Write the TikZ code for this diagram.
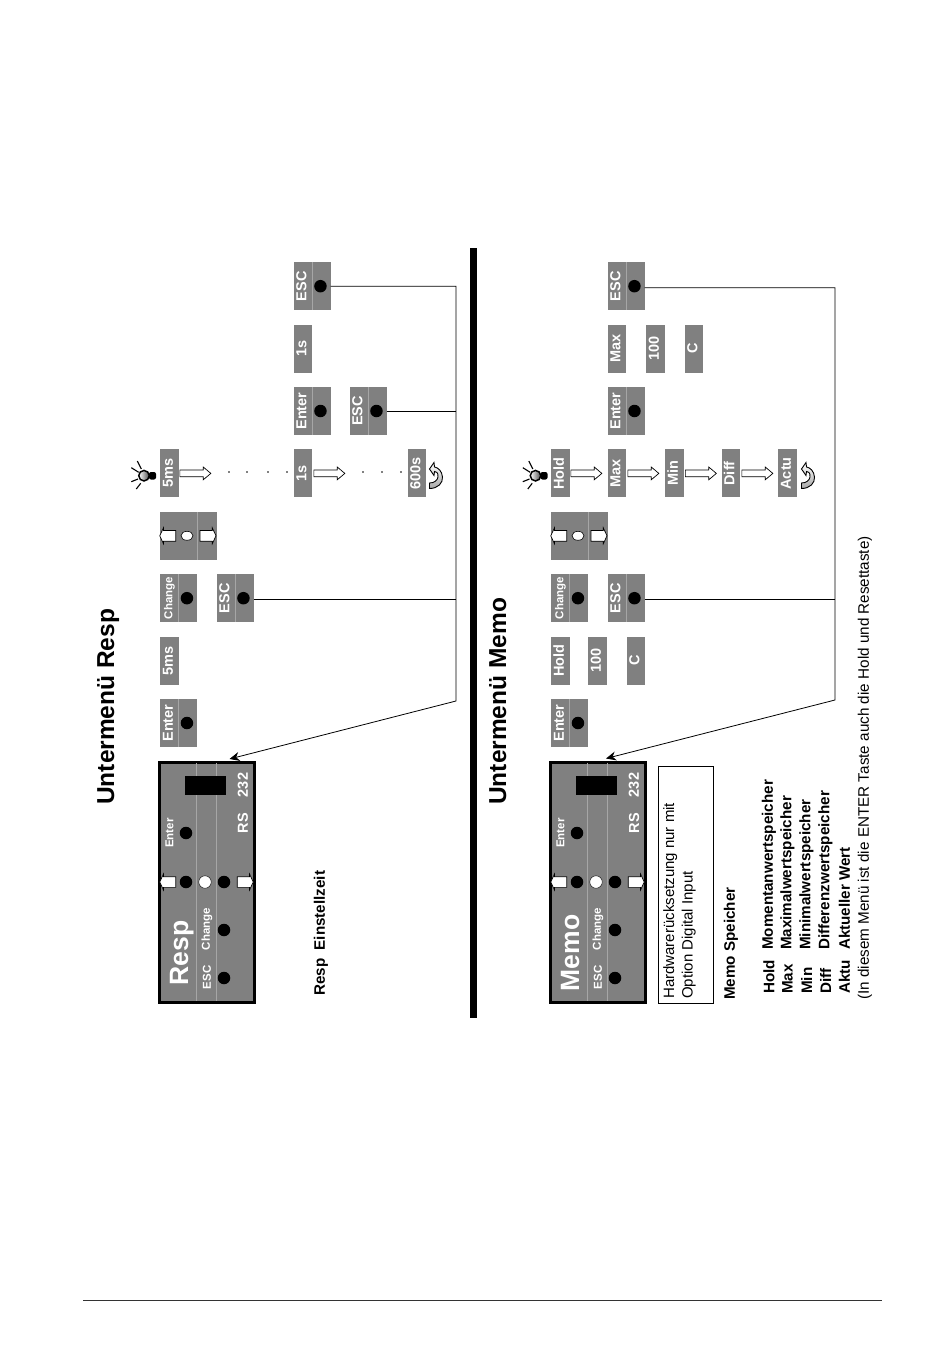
\documentclass[tikz,border=0pt]{standalone}
\usepackage{fontspec}
\setmainfont{Liberation Sans}
\usepackage{xcolor}
\definecolor{keygray}{HTML}{808080}
\definecolor{linegray}{HTML}{A6A6A6}
\usetikzlibrary{
  arrows.meta, positioning, shapes.geometric, shapes.arrows
}

\newcommand{\vt}[1]{\rotatebox{90}{#1\strut}}
\newcommand{\smalltext}{\fontsize{11.5}{16}\selectfont}

% text cell, dot cell and dot of one key
\newcommand{\keybox}[3]{
  \node[keycell, #2] (#1) {\vt{#3}};
  \node[dotcell, right=0pt of #1] (#1Cell) {};
  \node[keydot, xshift=-0.8pt] (#1Dot) at (#1Cell) {};
  \draw[divider] (#1Cell.north west) -- (#1Cell.south west);
}

% the box with the two arrows and the white oval
\newcommand{\arrowbox}[2]{
  \node[keycell, minimum width=37pt, #2] (#1) {};
  \node[dotcell, minimum width=19.5pt, right=0pt of #1] (#1Cell) {};
  \draw[divider] (#1Cell.north west) -- (#1Cell.south west);
  \node[panelarrow, shape border rotate=180, xshift=-9.5pt] (#1Left) at (#1) {};
  \node[ovaldot, xshift=8.5pt] (#1Oval) at (#1) {};
  \node[panelarrow] (#1Right) at (#1Cell) {};
}

\newcommand{\ctrlpanel}[3]{
  \begin{scope}[xshift=#2pt]
    \node[panelbox] (#1) at (207,882) {};
    \draw[divider] (196,763) -- (196,1001);
    \draw[divider] (216,763) -- (216,1001);
    \node[fill=black, minimum width=41pt, minimum height=19pt, inner sep=0pt] (#1Display) at (205.5,785.5) {};
    \node[paneltext] (#1EnterLabel) at (169.5,833) {Enter};
    \node[keydot] (#1EnterDot) at (186,833) {};
    \node[panelarrow, shape border rotate=180] (#1Left) at (169,882) {};
    \node[keydot] (#1DotA) at (186,882) {};
    \node[keydot, fill=white, draw=black] (#1DotB) at (205,882) {};
    \node[keydot] (#1DotC) at (224,882) {};
    \node[panelarrow] (#1Right) at (244,882) {};
    \node[paneltext] (#1ChangeLabel) at (207,929) {Change};
    \node[keydot] (#1ChangeDot) at (224,930) {};
    \node[paneltext] (#1EscLabel) at (207,977.5) {ESC};
    \node[keydot] (#1EscDot) at (224,978) {};
    \node[panelname] (#1Name) at (188,953) {#3};
    \node[panelport] (#1Rs) at (243,823) {RS};
    \node[panelport] (#1Port) at (243,785) {232};
  \end{scope}
}

\newcommand{\lamp}[2]{
  \begin{scope}[xshift=#2pt]
    \draw[line width=1.1pt] (137.3,461) -- (141.3,469);
    \draw[line width=1.1pt] (131.3,467.7) -- (138.7,472.3);
    \draw[line width=1.1pt] (131.3,481.7) -- (138,479);
    \draw[line width=1.1pt] (136.3,489) -- (140.7,483.3);
    \fill[rounded corners=2pt] (149,472) rectangle (156,479.5);
    \node[circle, draw, line width=1.5pt, left color=white, middle color=white,
          right color=black!70, minimum size=10.5pt, inner sep=0pt] (#1) at (144,475.7) {};
  \end{scope}
}

\newcommand{\turnarrow}[1]{
  \begin{scope}[xshift=#1pt]
    \draw[line width=0.9pt, top color=white, middle color=white, bottom color=linegray]
      (429.5,488.5) .. controls (438,488.5) and (443,483) .. (442.5,477)
      .. controls (442,471) and (438,467.5) .. (434.5,467)
      -- (434,462.5) -- (429.5,469) -- (434,475.5) -- (434.5,471.5)
      .. controls (438,472) and (438.5,475) .. (438,477)
      .. controls (437.5,480.5) and (434,483) .. (429.5,483) -- cycle;
  \end{scope}
}

\begin{document}
\begin{tikzpicture}[
  x=1pt, y=-1pt,
  node distance=14.4pt and 0pt,
  keycell/.style={fill=keygray, minimum width=18.5pt, minimum height=48pt,
                  inner sep=0pt, outer sep=0pt, text=white,
                  font=\fontsize{14.5}{18}\selectfont\bfseries},
  dotcell/.style={fill=keygray, minimum width=18.5pt, minimum height=48pt,
                  inner sep=0pt, outer sep=0pt},
  divider/.style={draw=linegray, line width=0.6pt},
  keydot/.style={circle, fill=black, minimum size=12.5pt, inner sep=0pt},
  ovaldot/.style={ellipse, draw=black, fill=white, line width=0.6pt,
                  minimum width=12pt, minimum height=9pt, inner sep=0pt},
  panelbox/.style={draw=black, fill=keygray, line width=3pt,
                   minimum width=95pt, minimum height=240pt, inner sep=0pt},
  paneltext/.style={rotate=90, text=white, inner sep=0pt,
                    font=\fontsize{11.5}{14}\selectfont\bfseries},
  panelport/.style={rotate=90, text=white, inner sep=0pt,
                    font=\fontsize{14.5}{18}\selectfont\bfseries},
  panelname/.style={rotate=90, text=white, inner sep=0pt, anchor=base,
                    font=\fontsize{26.5}{30}\selectfont\bfseries},
  panelarrow/.style={single arrow, draw=black, fill=white, line width=0.7pt,
                     minimum height=16pt, inner xsep=0pt, inner ysep=5pt,
                     single arrow head extend=2.5pt, single arrow tip angle=130},
  steparrow/.style={single arrow, draw=black, fill=white, line width=0.7pt,
                    minimum height=31pt, inner xsep=0pt, inner ysep=3pt,
                    single arrow head extend=3pt, single arrow tip angle=80},
  tick/.style={circle, fill=black, minimum size=1.8pt, inner sep=0pt},
  titletext/.style={rotate=90, anchor=base west, inner sep=0pt,
                    font=\fontsize{24.5}{30}\selectfont\bfseries},
  boldtext/.style={rotate=90, anchor=west, inner sep=0pt,
                   font=\fontsize{15.2}{18}\selectfont\bfseries},
  plaintext/.style={rotate=90, anchor=west, inner sep=0pt, align=left,
                    font=\fontsize{15.25}{18.6}\selectfont},
  wire/.style={draw=black, line width=0.8pt},
  tipwire/.style={wire, -{Stealth[length=10pt, width=9pt]}}
]

\useasboundingbox (0,0) rectangle (950,1359);

% left part
\node[titletext] (respTitle) at (114,805) {Untermenü Resp};
\ctrlpanel{respPanel}{0}{Resp}
\node[boldtext] (respHelp) at (321,996) {Resp\ \ Einstellzeit};

\keybox{respEnter}{at={(169.25,723)}}{Enter}
\node[keycell, above=of respEnter] (respFive) {\vt{5ms}};
\keybox{respChange}{above=of respFive}{\smalltext Change}
\keybox{respEscA}{right=19.5pt of respChangeCell}{ESC}
\arrowbox{respArrows}{above=of respChange.north west, anchor=south west}

\node[keycell, above=of respArrows.north west, anchor=south west] (respSel) {\vt{5ms}};
\lamp{respLamp}{0}
\node[steparrow, right=1pt of respSel] (respStepA) {};
\node[tick] (respTickA) at (229,472) {};
\node[tick] (respTickB) at (247,472) {};
\node[tick] (respTickC) at (268,472) {};
\node[tick] (respTickD) at (287,472) {};

\node[keycell, right=115pt of respSel] (respOne) {\vt{1s}};
\node[steparrow, right=1.5pt of respOne] (respStepB) {};
\node[tick] (respTickE) at (363,472) {};
\node[tick] (respTickF) at (382,472) {};
\node[tick] (respTickG) at (401,472) {};
\node[keycell, right=95.5pt of respOne] (respMax) {\vt{600s}};
\turnarrow{0}

\keybox{respEnterB}{above=of respOne}{Enter}
\keybox{respEscB}{right=19pt of respEnterBCell}{ESC}
\node[keycell, above=of respEnterB] (respOneB) {\vt{1s}};
\keybox{respEscC}{above=of respOneB}{ESC}

\coordinate (respBus) at (456,701);
\coordinate (respTip) at (229.5,759);
\draw[tipwire] (respEscCCell.east) -| (respBus) -- (respTip);
\draw[wire] (respEscBCell.east) -- (respEscBCell.east -| respBus);
\draw[wire] ([yshift=-1.5pt]respEscACell.east) -- ([yshift=-1.5pt]respEscACell.east -| respBus);

% the bar between both parts
\node[fill=black, minimum width=7pt, minimum height=770pt, inner sep=0pt] (midBar) at (473.5,633) {};

% right part
\node[titletext] (memoTitle) at (506,805) {Untermenü Memo};
\ctrlpanel{memoPanel}{391}{Memo}

\node[draw=black, line width=0.6pt, minimum width=55pt, minimum height=237pt, inner sep=0pt] (memoNoteBox) at (685.5,884.5) {};
\node[plaintext, font=\fontsize{15}{18.6}\selectfont] (memoNote) at (679.5,999) {Hardwarerücksetzung nur mit\\Option Digital Input};
\node[boldtext] (memoHelp) at (731,1000) {Memo Speicher};

\node[boldtext] (listHold) at (769,994) {Hold};
\node[boldtext] (listHoldText) at (769,950) {Momentanwertspeicher};
\node[boldtext] (listMax) at (787.5,994) {Max};
\node[boldtext] (listMaxText) at (787.5,950) {Maximalwertspeicher};
\node[boldtext] (listMin) at (806.5,994) {Min};
\node[boldtext] (listMinText) at (806.5,950) {Minimalwertspeicher};
\node[boldtext] (listDiff) at (825.5,994) {Diff};
\node[boldtext] (listDiffText) at (825.5,950) {Differenzwertspeicher};
\node[boldtext] (listAktu) at (844.5,994) {Aktu};
\node[boldtext] (listAktuText) at (844.5,950) {Aktueller Wert};
\node[plaintext] (listNote) at (865,1000) {(In diesem Menü ist die ENTER Taste auch die Hold und Resettaste)};

\keybox{memoEnter}{at={(560.25,723)}}{Enter}
\node[keycell, above=of memoEnter] (memoHold) {\vt{Hold}};
\node[keycell, right=18.5pt of memoHold] (memoHundred) {\vt{100}};
\node[keycell, right=20pt of memoHundred] (memoUnit) {\vt{C}};
\keybox{memoChange}{above=of memoHold}{\smalltext Change}
\keybox{memoEscA}{right=19.5pt of memoChangeCell}{ESC}
\arrowbox{memoArrows}{above=of memoChange.north west, anchor=south west}

\node[keycell, above=of memoArrows.north west, anchor=south west] (memoSel) {\vt{Hold}};
\lamp{memoLamp}{391.5}
\node[steparrow, right=1pt of memoSel] (memoStepA) {};
\node[keycell, right=38pt of memoSel] (memoMax) {\vt{Max}};
\node[steparrow, right=1.5pt of memoMax] (memoStepB) {};
\node[keycell, right=39pt of memoMax] (memoMin) {\vt{Min}};
\node[steparrow, right=1.5pt of memoMin] (memoStepC) {};
\node[keycell, right=38pt of memoMin] (memoDiff) {\vt{Diff}};
\node[steparrow, right=1.5pt of memoDiff] (memoStepD) {};
\node[keycell, right=38pt of memoDiff] (memoActu) {\vt{Actu}};
\turnarrow{372}

\keybox{memoEnterB}{above=of memoMax}{Enter}
\node[keycell, above=of memoEnterB] (memoMaxB) {\vt{Max}};
\node[keycell, right=20pt of memoMaxB] (memoHundredB) {\vt{100}};
\node[keycell, right=20pt of memoHundredB] (memoUnitB) {\vt{C}};
\keybox{memoEscC}{above=of memoMaxB}{ESC}

\coordinate (memoBus) at (835,700);
\coordinate (memoTip) at (606,758.5);
\draw[tipwire] ([yshift=-1.5pt]memoEscCCell.east) -| (memoBus) -- (memoTip);
\draw[wire] ([yshift=-1.5pt]memoEscACell.east) -- ([yshift=-1.5pt]memoEscACell.east -| memoBus);

% bottom rule
\coordinate (ruleLeft) at (83,1300.5);
\coordinate (ruleRight) at (882,1300.5);
\draw[line width=0.7pt, draw=black!80] (ruleLeft) -- (ruleRight);

\end{tikzpicture}
\end{document}
